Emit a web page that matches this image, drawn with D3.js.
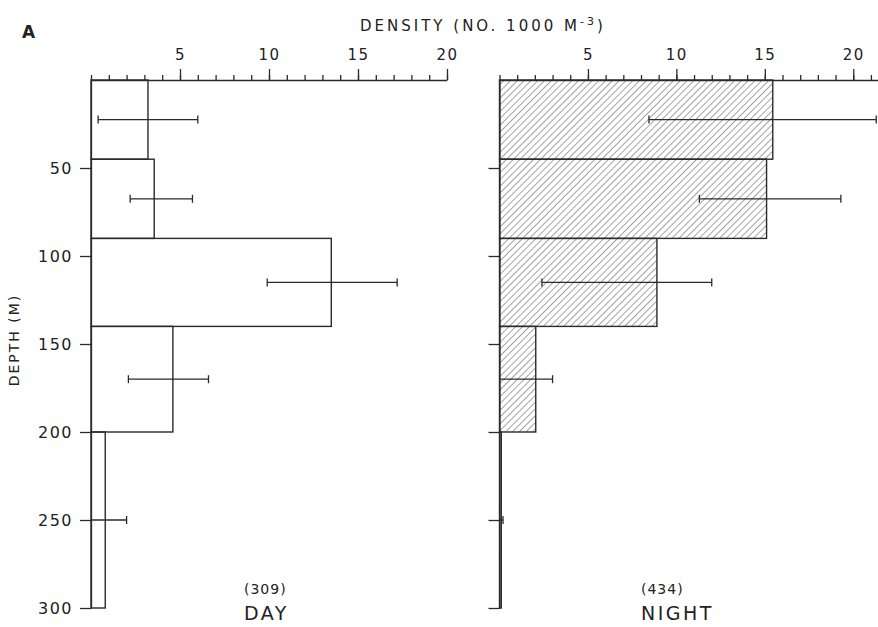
<!DOCTYPE html>
<html>
<head>
<meta charset="utf-8">
<script src="https://cdn.jsdelivr.net/npm/d3@7"></script>
<style>
  body { margin: 0; background: #fff; }
  svg text { font-family: "DejaVu Sans", sans-serif; fill: #222; }
</style>
</head>
<body>
<div class="chart"></div>
<script>
// depth strata (m)
const depthTop = [0, 45, 90, 140, 200];
const depthBottom = [45, 90, 140, 200, 300];
// density, no. per 1000 m^-3
const dayMean = [3.2, 3.55, 13.5, 4.6, 0.8];
const dayLow = [0.4, 2.2, 9.9, 2.1, 0];
const dayHigh = [6.0, 5.7, 17.2, 6.6, 2.0];
const nightMean = [15.45, 15.1, 8.9, 2.05, 0.1];
const nightLow = [8.45, 11.3, 2.4, 0, 0];
const nightHigh = [21.3, 19.3, 12.0, 3.0, 0.2];
const depthTicks = [50, 100, 150, 200, 250, 300];
const densityTicks = [5, 10, 15, 20];
const counts = ["(309)", "(434)"];
const panelNames = ["DAY", "NIGHT"];

const width = 878, height = 627;

let svg = d3.select(".chart").append("svg")
  .attr("width", width)
  .attr("height", height);

// hatch for night bars
svg.append("defs").append("pattern")
  .attr("id", "hatch")
  .attr("patternUnits", "userSpaceOnUse")
  .attr("width", 4.8).attr("height", 4.8)
  .attr("patternTransform", "rotate(45)")
  .append("line")
  .attr("x1", 0).attr("y1", 0).attr("x2", 0).attr("y2", 4.8)
  .attr("stroke", "#333").attr("stroke-width", 0.9);

const y = d3.scaleLinear().domain([0, 300]).range([80, 608]);
const dayX = d3.scaleLinear().domain([0, 20]).range([91, 447]);
const nightX = d3.scaleLinear().domain([0, 21.4]).range([499.5, 878]);

const panels = [
  { x: dayX, mean: dayMean, low: dayLow, high: dayHigh, fill: "none", labels: true, maxMinor: 20 },
  { x: nightX, mean: nightMean, low: nightLow, high: nightHigh, fill: "url(#hatch)", labels: false, maxMinor: 21 }
];

panels.forEach((p, k) => {
  let g = svg.append("g");

  let rows = depthTop.map((d, i) => ({
    top: d, bottom: depthBottom[i], mean: p.mean[i], low: p.low[i], high: p.high[i]
  }));

  // bars
  g.selectAll("rect.bar")
    .data(rows)
    .join("rect")
    .attr("class", "bar")
    .attr("x", p.x(0))
    .attr("y", d => y(d.top))
    .attr("width", d => p.x(d.mean) - p.x(0))
    .attr("height", d => y(d.bottom) - y(d.top))
    .attr("fill", p.fill)
    .attr("stroke", "#2a2a2a")
    .attr("stroke-width", 1.4);

  // error bars
  let eb = g.selectAll("g.err")
    .data(rows)
    .join("g")
    .attr("class", "err")
    .attr("stroke", "#2a2a2a")
    .attr("stroke-width", 1.3);

  eb.append("line")
    .attr("x1", d => p.x(d.low))
    .attr("x2", d => p.x(d.high))
    .attr("y1", d => y((d.top + d.bottom) / 2))
    .attr("y2", d => y((d.top + d.bottom) / 2));

  eb.append("line")
    .attr("x1", d => p.x(d.high))
    .attr("x2", d => p.x(d.high))
    .attr("y1", d => y((d.top + d.bottom) / 2) - 4)
    .attr("y2", d => y((d.top + d.bottom) / 2) + 4);

  eb.filter(d => d.low > 0).append("line")
    .attr("x1", d => p.x(d.low))
    .attr("x2", d => p.x(d.low))
    .attr("y1", d => y((d.top + d.bottom) / 2) - 4)
    .attr("y2", d => y((d.top + d.bottom) / 2) + 4);

  // top axis: minor ticks every unit, major every 5
  let minor = g.append("g")
    .attr("transform", `translate(0,${y(0)})`)
    .call(d3.axisTop(p.x).tickValues(d3.range(0, p.maxMinor + 1)).tickSize(5).tickSizeOuter(0).tickFormat(""));
  let major = g.append("g")
    .attr("transform", `translate(0,${y(0)})`)
    .call(d3.axisTop(p.x).tickValues(densityTicks).tickSize(11).tickPadding(9).tickFormat(d3.format("d")));
  major.select(".domain").remove();
  [minor, major].forEach(a => {
    a.selectAll("path, line").attr("stroke", "#2a2a2a").attr("stroke-width", 1.3);
  });
  major.selectAll("text")
    .attr("font-size", 15)
    .attr("letter-spacing", 1.5)
    .attr("fill", "#222");

  // depth axis
  let left = g.append("g")
    .attr("transform", `translate(${p.x(0)},0)`)
    .call(d3.axisLeft(y).tickValues(depthTicks).tickSize(11).tickSizeOuter(0).tickPadding(7)
      .tickFormat(p.labels ? d3.format("d") : ""));
  left.selectAll("path, line").attr("stroke", "#2a2a2a").attr("stroke-width", 1.3);
  left.selectAll("text")
    .attr("font-size", 16)
    .attr("letter-spacing", 1.5)
    .attr("fill", "#222");

  // sample count and panel name
  let lx = [244, 641][k];
  g.append("text")
    .attr("x", lx).attr("y", 594)
    .attr("font-size", 14)
    .attr("letter-spacing", 1)
    .text(counts[k]);
  g.append("text")
    .attr("x", lx).attr("y", 620)
    .attr("font-size", 19)
    .attr("letter-spacing", 2.5)
    .text(panelNames[k]);
});

// titles
let title = svg.append("text")
  .attr("x", 360).attr("y", 31)
  .attr("font-size", 15)
  .attr("letter-spacing", 3);
title.append("tspan").text("DENSITY (NO. 1000 M");
title.append("tspan").attr("dy", -6).attr("font-size", 11).text("-3");
title.append("tspan").attr("dy", 6).text(")");

svg.append("text")
  .attr("x", 22).attr("y", 38)
  .attr("font-size", 17)
  .attr("font-weight", "bold")
  .text("A");

svg.append("text")
  .attr("transform", "translate(19,340) rotate(-90)")
  .attr("text-anchor", "middle")
  .attr("font-size", 14)
  .attr("letter-spacing", 2)
  .text("DEPTH (M)");
</script>
</body>
</html>
